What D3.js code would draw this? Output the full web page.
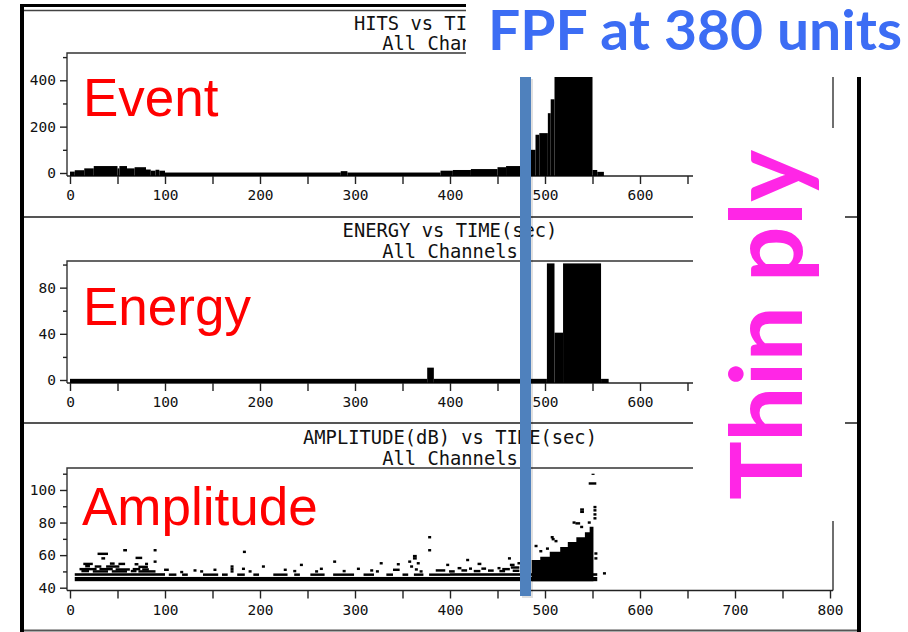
<!DOCTYPE html>
<html>
<head>
<meta charset="utf-8">
<script src="https://cdn.jsdelivr.net/npm/d3@7"></script>
<style>
  body { margin: 0; background: #fff; }
  svg { display: block; }
  .title { font-family: "DejaVu Sans Mono", monospace; font-size: 18.8px; fill: #111; }
  .tick text { font-family: "DejaVu Sans Mono", monospace; font-size: 14.5px; fill: #111; }
  .tick line { stroke: #222; stroke-width: 1.4; }
</style>
</head>
<body>
<svg id="chart" width="908" height="632"></svg>
<script>
// HITS vs TIME : bin edges (sec) and hit counts
const hitsEdges = [0, 5, 15, 25, 50, 52, 60, 68, 80, 85, 90, 94, 100, 285, 292, 390, 403, 422, 450, 459, 474, 485, 490, 494, 503, 506, 510, 550, 555, 562];
const hitsCounts = [6, 12, 20, 30, 20, 30, 20, 25, 15, 10, 14, 10, 2, 8, 2, 10, 13, 17, 25, 30, 60, 100, 165, 172, 258, 318, 500, 13, 5];

// ENERGY vs TIME : bin edges (sec) and energy
const energyEdges = [0, 376, 383, 502, 510, 519, 559, 567];
const energyValues = [1, 10.7, 1, 101, 41, 101, 1];

// AMPLITUDE vs TIME : threshold bands [t0, t1, dBlow, dBhigh]
const ampBands = [[5, 555, 44.0, 46.6], [5, 100, 47.3, 48.9], [400, 555, 47.3, 48.9]];
// runs of hits [t0, t1, dB]
const ampRuns = [
  [29, 40, 60.8], [33, 37, 58], [56, 60, 63], [69, 76, 58.3], [88, 91, 63], [88, 91, 56],
  [14, 24, 54.6], [42, 47, 54.8], [51, 58, 54.6], [68, 72, 54.4], [79, 82, 54.6],
  [16, 21, 53.2], [26, 33, 53], [38, 52, 53], [72, 82, 52.8],
  [10, 28, 51.4], [31, 45, 51.4], [48, 63, 51.2], [66, 74, 51.4], [76, 83, 51.2],
  [12, 20, 50.2], [24, 40, 50], [44, 60, 50], [64, 70, 50.2], [72, 90, 50],
  [99, 104, 51], [116, 119, 49.6], [130, 133, 50.6], [137, 140, 50], [151, 154, 51],
  [169, 172, 53], [169, 172, 51.5], [169, 172, 50], [182, 185, 62], [181, 184, 51.6], [188, 191, 50],
  [202, 205, 53], [225, 228, 51], [235, 238, 50.2], [242, 245, 54], [263, 266, 51.6], [258, 261, 50],
  [277, 280, 56], [287, 290, 50.2], [302, 305, 51.6], [316, 319, 50.6], [326, 329, 55], [322, 325, 50],
  [340, 347, 51], [344, 347, 54.4], [356, 359, 56], [358, 361, 53], [361, 365, 58], [361, 365, 59.4],
  [363, 366, 51.2], [365, 368, 55], [368, 371, 50], [377, 380, 71], [377, 380, 63],
  [385, 395, 50.6], [396, 399, 54], [399, 405, 50], [408, 412, 52], [412, 418, 50.6], [417, 420, 57],
  [420, 423, 51.7], [425, 432, 50.2], [429, 433, 54.6], [433, 438, 51.7], [440, 446, 50.5], [450, 453, 52],
  [452, 458, 50.2], [455, 463, 51.4], [461, 464, 58], [463, 468, 54], [464, 473, 52.4], [471, 474, 55],
  [474, 477, 54], [466, 473, 50.4],
  [489, 492, 65.6], [494, 497, 62.4], [501, 504, 64], [506, 509, 71], [507, 510, 69.8], [510, 513, 68.6],
  [529, 532, 80], [532, 537, 79.5], [537, 540, 77.3], [537, 541, 86.6], [537, 541, 88], [545, 548, 80],
  [549, 552, 110], [546, 554, 104], [551, 554, 89.5], [551, 554, 87.5], [551, 554, 85], [551, 554, 82.6],
  [552, 555, 61], [552, 555, 58], [561, 564, 48.8],
  [104, 112, 48], [118, 124, 48], [140, 156, 48], [160, 166, 48], [176, 184, 48], [193, 199, 48],
  [214, 229, 48], [236, 242, 48], [253, 268, 48], [277, 299, 48], [309, 320, 48], [333, 340, 48],
  [350, 356, 48], [362, 372, 48], [378, 400, 48]
];
// dense region after failure: step edges (sec) and upper dB
const rampTimes = [486, 495, 505, 516, 524, 533, 542, 547, 551];
const rampTops = [57, 59, 62, 65, 68, 71, 74, 77.4];

const xTickValues = d3.range(0, 801, 50);
const hitsTicks = [0, 200, 400], hitsMinor = [100, 300, 500];
const energyTicks = [0, 40, 80], energyMinor = [20, 60, 100];
const ampTicks = [40, 60, 80, 100], ampMinor = [50, 70, 90, 110];

const svg = d3.select("#chart");
const x = d3.scaleLinear().domain([0, 800]).range([70, 830]);
const frameL = 67, frameR = 833;

// the annotation box cuts the first title, as in the slide
svg.append("defs").append("clipPath").attr("id", "titleClip")
  .append("rect").attr("x", 0).attr("y", 0).attr("width", 466).attr("height", 80);

// outer frame of the screenshot
svg.append("rect").attr("x", 20).attr("y", 4).attr("width", 4).attr("height", 628).attr("fill", "#000");
svg.append("rect").attr("x", 20).attr("y", 4).attr("width", 840).attr("height", 3).attr("fill", "#000");
svg.append("line").attr("x1", 24).attr("x2", 858).attr("y1", 10.5).attr("y2", 10.5).attr("stroke", "#444").attr("stroke-width", 1.6);
[217, 423, 630.5].forEach(yy => {
  svg.append("line").attr("x1", 24).attr("x2", 858).attr("y1", yy).attr("y2", yy).attr("stroke", "#555").attr("stroke-width", 2);
});
svg.append("rect").attr("x", 857).attr("y", 4).attr("width", 4).attr("height", 628).attr("fill", "#000");

const panels = [
  {titles: ["HITS vs TIME(sec)", "All Channels"], titleY: [30, 50], top: 53, axisY: 176, clip: true,
   y: d3.scaleLinear().domain([0, 500]).range([173, 57.1]).clamp(true), major: hitsTicks, minor: hitsMinor},
  {titles: ["ENERGY vs TIME(sec)", "All Channels"], titleY: [237, 257.5], top: 261, axisY: 383,
   y: d3.scaleLinear().domain([0, 101]).range([380, 263.4]).clamp(true), major: energyTicks, minor: energyMinor},
  {titles: ["AMPLITUDE(dB) vs TIME(sec)", "All Channels"], titleY: [444, 465], top: 468, axisY: 590.5,
   y: d3.scaleLinear().domain([40, 110]).range([587.7, 473.7]).clamp(true), major: ampTicks, minor: ampMinor}
];

panels.forEach(p => {
  const g = svg.append("g");
  const tg = g.append("g");
  if (p.clip) tg.attr("clip-path", "url(#titleClip)");
  p.titles.forEach((t, i) => {
    tg.append("text").attr("class", "title").attr("x", 450).attr("y", p.titleY[i])
      .attr("text-anchor", "middle").text(t);
  });
  // frame
  g.append("path")
    .attr("d", `M${frameL},${p.axisY}V${p.top}H${frameR}V${p.axisY}`)
    .attr("fill", "none").attr("stroke", "#333").attr("stroke-width", 1.4);
  g.append("line").attr("x1", frameL).attr("x2", frameR).attr("y1", p.axisY).attr("y2", p.axisY)
    .attr("stroke", "#222").attr("stroke-width", 1.6);

  const xa = g.append("g").attr("transform", `translate(0,${p.axisY})`)
    .call(d3.axisBottom(x).tickValues(xTickValues).tickSize(8).tickPadding(6)
      .tickFormat(d => d % 100 === 0 ? d : ""));
  xa.select(".domain").remove();

  const ya = g.append("g").attr("transform", `translate(${frameL},0)`)
    .call(d3.axisLeft(p.y).tickValues(p.major).tickSize(7).tickPadding(4));
  ya.select(".domain").remove();
  const ym = g.append("g").attr("transform", `translate(${frameL},0)`)
    .call(d3.axisLeft(p.y).tickValues(p.minor).tickSize(4).tickFormat(""));
  ym.select(".domain").remove();
  p.g = g;
});

// hits histogram
const hp = panels[0];
hp.g.selectAll("rect.hit").data(hitsCounts).join("rect")
  .attr("x", (d, i) => x(hitsEdges[i]))
  .attr("width", (d, i) => x(hitsEdges[i + 1]) - x(hitsEdges[i]))
  .attr("y", d => Math.min(hp.y(d), hp.axisY - 3))
  .attr("height", d => hp.axisY - Math.min(hp.y(d), hp.axisY - 3))
  .attr("fill", "#000");

// energy histogram
const ep = panels[1];
ep.g.selectAll("rect.en").data(energyValues).join("rect")
  .attr("x", (d, i) => x(energyEdges[i]))
  .attr("width", (d, i) => x(energyEdges[i + 1]) - x(energyEdges[i]))
  .attr("y", d => ep.y(d))
  .attr("height", d => ep.axisY - ep.y(d))
  .attr("fill", "#000");

// amplitude hits
const ap = panels[2];
ap.g.selectAll("rect.band").data(ampBands).join("rect")
  .attr("x", d => x(d[0])).attr("width", d => x(d[1]) - x(d[0]))
  .attr("y", d => ap.y(d[3])).attr("height", d => ap.y(d[2]) - ap.y(d[3]))
  .attr("fill", "#000");
const rampData = rampTimes.map((t, i) => ({t: t, top: rampTops[Math.min(i, rampTops.length - 1)]}));
ap.g.append("path").datum(rampData)
  .attr("d", d3.area().curve(d3.curveStepAfter).x(d => x(d.t)).y0(ap.y(44)).y1(d => ap.y(d.top)))
  .attr("fill", "#000");
ap.g.selectAll("rect.run").data(ampRuns).join("rect")
  .attr("x", d => x(d[0])).attr("width", d => Math.max(3, x(d[1]) - x(d[0])))
  .attr("y", d => ap.y(d[2] + 0.75)).attr("height", d => ap.y(d[2] - 0.75) - ap.y(d[2] + 0.75))
  .attr("fill", "#000");

// red panel labels
const labelStyle = s => s.attr("font-family", "'Liberation Sans', Arial, sans-serif").attr("font-size", 53).attr("fill", "#ff0000");
svg.append("text").attr("x", 83).attr("y", 116).text("Event").call(labelStyle);
svg.append("text").attr("x", 83).attr("y", 325).text("Energy").call(labelStyle);
svg.append("text").attr("x", 82).attr("y", 525).text("Amplitude").call(labelStyle);

// failure marker
svg.append("rect").attr("x", 522).attr("y", 79).attr("width", 11).attr("height", 519).attr("fill", "#000").attr("opacity", 0.12);
svg.append("rect").attr("x", 520).attr("y", 77).attr("width", 11).attr("height", 519).attr("fill", "#4f81bd");

// overlay boxes with annotations
svg.append("rect").attr("x", 693).attr("y", 128).attr("width", 152).attr("height", 393).attr("fill", "#fff");
svg.append("rect").attr("x", 466).attr("y", 0).attr("width", 442).attr("height", 77).attr("fill", "#fff");

svg.append("text").attr("x", 488).attr("y", 50)
  .attr("font-family", "Lato, 'Open Sans', sans-serif").attr("font-weight", "bold").attr("font-size", 55)
  .attr("fill", "#3c6df4").attr("textLength", 414).attr("lengthAdjust", "spacingAndGlyphs")
  .text("FPF at 380 units");

svg.append("text").attr("transform", "translate(802,500) rotate(-90)")
  .attr("font-family", "Lato, 'Open Sans', sans-serif").attr("font-weight", "bold").attr("font-size", 100)
  .attr("fill", "#ff26e6").attr("textLength", 350).attr("lengthAdjust", "spacingAndGlyphs")
  .text("Thin ply");
</script>
</body>
</html>
